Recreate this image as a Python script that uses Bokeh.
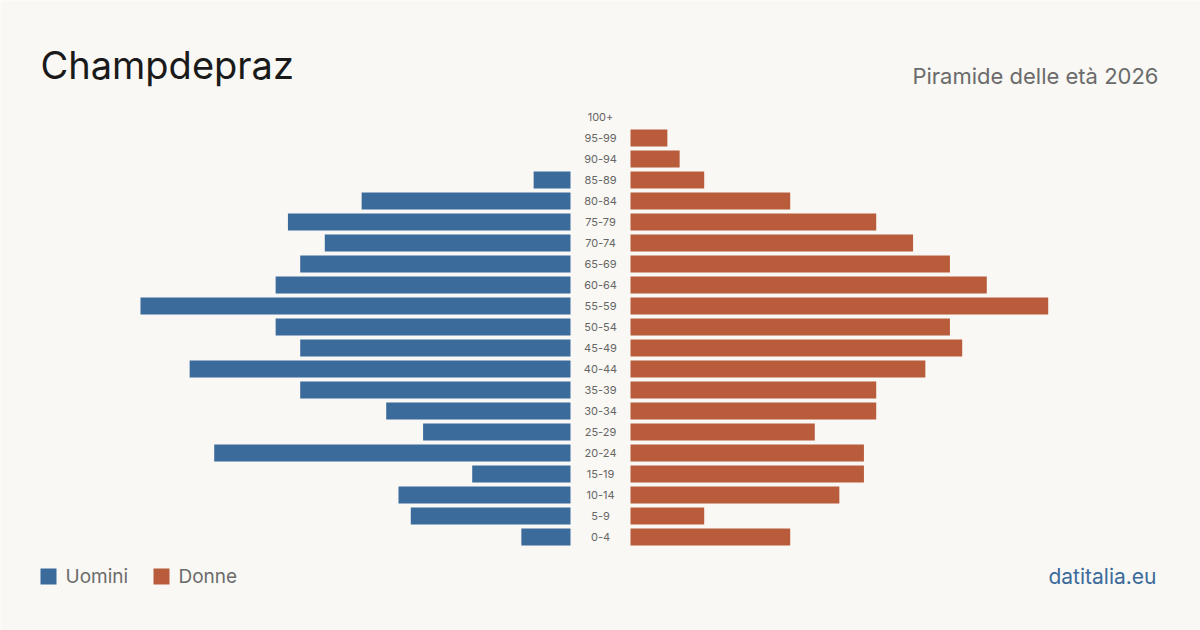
import numpy as np
from bokeh.plotting import figure
from bokeh.models import Range1d, Label, BoxAnnotation, ColumnDataSource
from bokeh.core.properties import value
from bokeh.embed import file_html
from bokeh.resources import INLINE

age_groups = ["0-4", "5-9", "10-14", "15-19", "20-24", "25-29", "30-34", "35-39",
              "40-44", "45-49", "50-54", "55-59", "60-64", "65-69", "70-74", "75-79",
              "80-84", "85-89", "90-94", "95-99", "100+"]
uomini = [4, 13, 14, 8, 29, 12, 15, 22, 31, 22, 24, 35, 24, 22, 20, 23, 17, 3, 0, 0, 0]
donne = [13, 6, 17, 19, 19, 15, 20, 20, 24, 27, 26, 34, 29, 26, 23, 20, 13, 6, 4, 3, 0]

BG = "#f9f8f4"
BLUE = "#3b6b9b"
ORANGE = "#b95c3c"
FONT = "Inter"

W, H = 1200, 630
scale = 430 / 35.0          # px per person
gap = 30 / scale            # half gap (data units)
row_px = 21.0
center_px = 536.5

p = figure(width=W, height=H, output_backend="svg", toolbar_location=None,
           x_range=Range1d(-(W / 2) / scale, (W / 2) / scale),
           y_range=Range1d(-(H - center_px) / row_px, center_px / row_px),
           min_border=0, background_fill_color=BG, border_fill_color=BG,
           outline_line_color=None)
p.axis.visible = False
p.grid.visible = False

idx = np.arange(len(age_groups))
u = np.array(uomini, dtype=float)
d = np.array(donne, dtype=float)

src = ColumnDataSource(dict(y=idx, lab=age_groups, x0=np.zeros(len(u))))
mu = u > 0
md = d > 0
p.hbar(y=idx[mu], left=-(gap + u[mu]), right=-gap, height=17 / row_px,
       fill_color=BLUE, line_color=None)
p.hbar(y=idx[md], left=gap, right=gap + d[md], height=17 / row_px,
       fill_color=ORANGE, line_color=None)
p.text(x="x0", y="y", text="lab", source=src, text_align="center",
       text_baseline="middle", text_font=value(FONT), text_font_size="11px",
       text_color="#666666")

p.add_layout(Label(x=40, y=H - 64, x_units="screen", y_units="screen",
                   text="Champdepraz", text_font=FONT, text_font_size="38px",
                   text_color="#1a1a1a", text_baseline="alphabetic"))
p.add_layout(Label(x=1158, y=H - 75.5, x_units="screen", y_units="screen",
                   text="Piramide delle età 2026", text_font=FONT,
                   text_font_size="22px", text_color="#6b6b6b",
                   text_align="right", text_baseline="alphabetic"))

for x0, col, name in [(40, BLUE, "Uomini"), (153, ORANGE, "Donne")]:
    p.add_layout(BoxAnnotation(left=x0, right=x0 + 16, top=H - 568, bottom=H - 584,
                               left_units="screen", right_units="screen",
                               top_units="screen", bottom_units="screen",
                               fill_color=col, fill_alpha=1, line_color=None))
    p.add_layout(Label(x=x0 + 25, y=H - 575.5, x_units="screen", y_units="screen",
                       text=name, text_font=FONT, text_font_size="19px",
                       text_color="#6b6b6b", text_baseline="alphabetic"))

p.add_layout(Label(x=1156, y=H - 575.5, x_units="screen", y_units="screen",
                   text="datitalia.eu", text_font=FONT, text_font_size="21px",
                   text_color=BLUE, text_align="right", text_baseline="alphabetic"))

open("out.html", "w").write(file_html(p, INLINE))
